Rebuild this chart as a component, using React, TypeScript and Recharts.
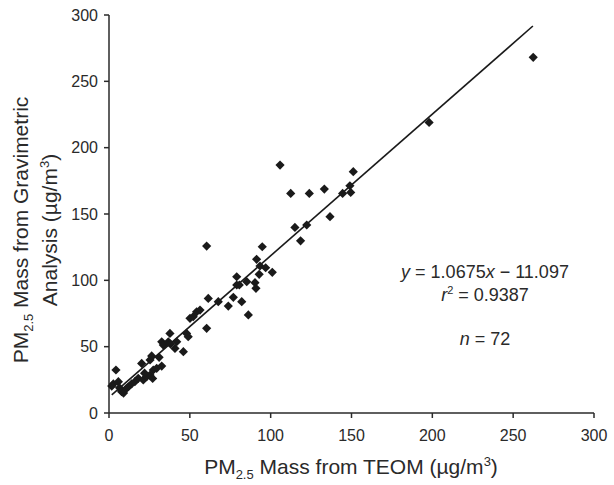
import React from 'react';
import { ScatterChart, Scatter, XAxis, YAxis, ReferenceLine, Label } from 'recharts';

// TEOM (x) vs gravimetric (y), ug/m3
const teom = [
  4.3, 2.7, 5.8, 1.7, 7.8, 10.9, 12, 16, 18.1, 20.2, 21.2, 23.3, 25.4, 25.4, 26.4, 27.4, 29.5, 32.6,
  32.6, 33.6, 37.7, 36.7, 40.8, 41.9, 46, 48, 49, 50.1, 52.1, 54.2, 56.3, 60.4, 61.4, 67.6, 73.8, 76.9,
  79, 82.1, 85.2, 86.2, 60.4, 80.6, 79, 90.3, 90.9, 92.9, 91.3, 93.4, 94.8, 96.9, 101, 105.8, 112.4, 115,
  118.5, 122.3, 123.9, 133.2, 136.7, 144.5, 149, 149.5, 151.1, 198, 262.4, 6.5, 9, 14, 22, 27, 31, 38,
];
const gravimetric = [
  32.4, 21.9, 23.6, 20.3, 16, 18.6, 19.8, 23.6, 26.1, 37.4, 24.9, 27.4, 28.6, 40, 43, 32.4, 33.7, 35.4,
  53.7, 51.2, 60, 53.7, 48.7, 53.7, 46.2, 60, 57.5, 71.4, 72.6, 76.3, 77.6, 63.8, 86.4, 83.9, 80.6, 87.2,
  96.5, 83.9, 99, 73.9, 125.8, 96.5, 102.7, 98.2, 94, 104.5, 115.8, 110.8, 125.3, 109.5, 106, 186.9, 165.5, 139.9,
  129.8, 141.7, 165.5, 168.8, 148, 165.5, 171.3, 166.3, 181.9, 219, 268.1, 19, 15, 22, 30, 26, 42, 52,
];

const xTicks = [0, 50, 100, 150, 200, 250, 300];
const yTicks = [0, 50, 100, 150, 200, 250, 300];

// fit line as drawn in the figure
const fitSlope = 1.0675;
const fitIntercept = 11.8;
const fitRange = [1.7, 262.2];

const points = teom.map((x, i) => ({ x, y: gravimetric[i] }));
const fitSegment = fitRange.map((x) => ({ x, y: fitSlope * x + fitIntercept }));

const FONT = '"Liberation Sans", Arial, Helvetica, sans-serif';
const INK = '#2a2a2a';

const Diamond = (props: any) => {
  const { cx, cy } = props;
  const r = 4.6;
  return (
    <polygon
      points={`${cx},${cy - r} ${cx + r},${cy} ${cx},${cy + r} ${cx - r},${cy}`}
      fill="#1a1a1a"
    />
  );
};

const XTitle = () => (
  <text x={351} y={474} textAnchor="middle" fontSize={21} fill={INK} fontFamily={FONT}>
    PM<tspan fontSize={13} dy={5}>2.5</tspan>
    <tspan dy={-5}> Mass from TEOM (µg/m</tspan>
    <tspan fontSize={13} dy={-8}>3</tspan>
    <tspan dy={8}>)</tspan>
  </text>
);

const YTitle = () => (
  <g transform="rotate(-90 0 0)" fontFamily={FONT} fontSize={21} fill={INK}>
    <text x={-230} y={28} textAnchor="middle">
      PM<tspan fontSize={13} dy={5}>2.5</tspan>
      <tspan dy={-5}> Mass from Gravimetric</tspan>
    </text>
    <text x={-230} y={57} textAnchor="middle">
      Analysis (µg/m<tspan fontSize={13} dy={-8}>3</tspan>
      <tspan dy={8}>)</tspan>
    </text>
  </g>
);

export default function App() {
  return (
    <div style={{ position: 'relative', width: 614, height: 485, background: '#fff' }}>
      <style>{'body{margin:0}'}</style>
      <ScatterChart width={614} height={485} margin={{ top: 15, right: 20, left: 0, bottom: 0 }}>
        <XAxis
          type="number"
          dataKey="x"
          domain={[0, 300]}
          ticks={xTicks}
          height={72}
          tickSize={5}
          tickMargin={12}
          stroke={INK}
          strokeWidth={1.5}
          tick={{ fill: INK, fontSize: 16, fontFamily: FONT }}
        >
          <Label content={<XTitle />} />
        </XAxis>
        <YAxis
          type="number"
          dataKey="y"
          domain={[0, 300]}
          ticks={yTicks}
          width={109}
          tickSize={5}
          tickMargin={6}
          stroke={INK}
          strokeWidth={1.5}
          tick={{ fill: INK, fontSize: 16, fontFamily: FONT }}
        >
          <Label content={<YTitle />} />
        </YAxis>
        <ReferenceLine segment={fitSegment} stroke="#1a1a1a" strokeWidth={1.6} />
        <Scatter data={points} shape={<Diamond />} isAnimationActive={false} />
      </ScatterChart>
      <div
        style={{
          position: 'absolute',
          left: 385,
          top: 261,
          width: 200,
          textAlign: 'center',
          fontFamily: FONT,
          fontSize: 18,
          color: INK,
          lineHeight: '23px',
        }}
      >
        <div>
          <i>y</i> = 1.0675<i>x</i> − 11.097
        </div>
        <div>
          <i>r</i>
          <sup style={{ fontSize: 11, lineHeight: 0 }}>2</sup> = 0.9387
        </div>
        <div style={{ marginTop: 21 }}>
          <i>n</i> = 72
        </div>
      </div>
    </div>
  );
}
